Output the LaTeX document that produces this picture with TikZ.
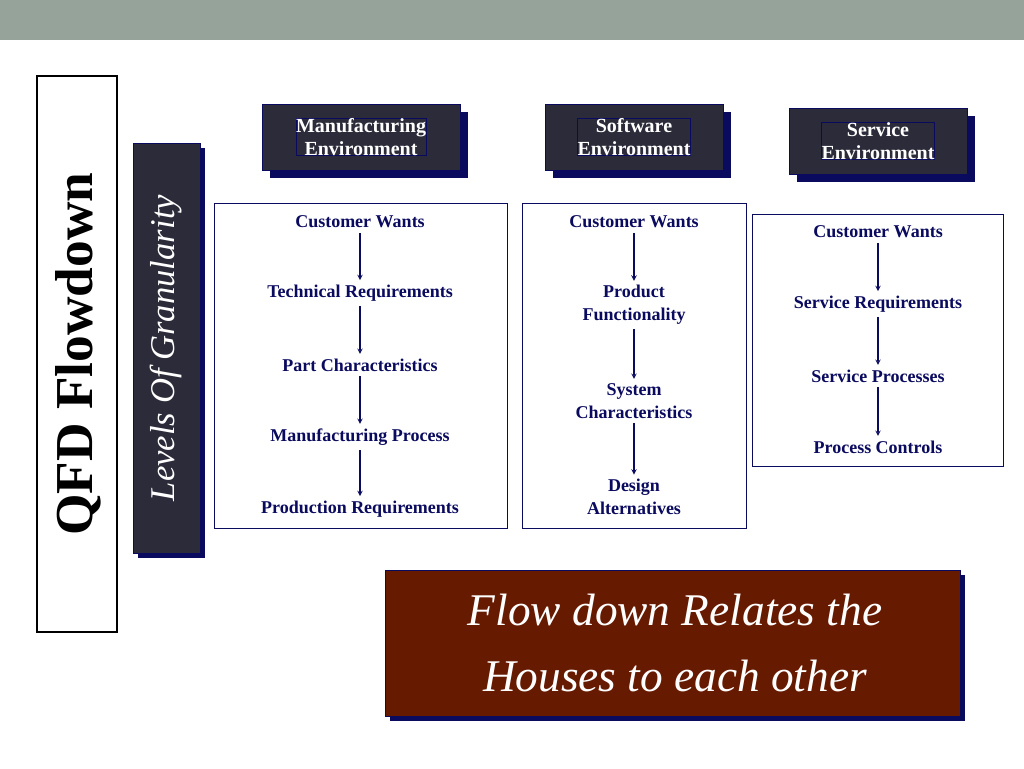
\documentclass[tikz,border=0pt]{standalone}
\usepackage{fontspec}
\setmainfont{Liberation Serif}
\usetikzlibrary{positioning}
\definecolor{topbar}{HTML}{95A39B}
\definecolor{darkbox}{HTML}{2B2B3A}
\definecolor{navy}{HTML}{0A0A5E}
\definecolor{maroon}{HTML}{661A00}
\tikzset{
  header/.style={fill=darkbox, draw=navy, text=white, font=\bfseries\fontsize{15}{17}\selectfont, align=center, inner sep=0pt},
  item/.style={text=navy, font=\bfseries\fontsize{13.5}{17}\selectfont, align=center},
  flow/.style={->, >=stealth, thick, draw=navy},
  column/.style={draw=navy, fill=white}
}
\begin{document}
\begin{tikzpicture}[x=0.75pt,y=-0.75pt]
\useasboundingbox (0,0) rectangle (1024,768);
\fill[white] (0,0) rectangle (1024,768);
\fill[topbar] (0,0) rectangle (1024,40);

% title
\draw[line width=2.2pt, fill=white] (37,76) rectangle (117,632);
\node[rotate=90, font=\bfseries\fontsize{40}{44}\selectfont] (title) at (78,354) {QFD Flowdown};

% granularity bar
\fill[navy] (138,148) rectangle (205,558);
\draw[fill=darkbox, draw=navy] (133,143) rectangle (200,553);
\node[rotate=90, text=white, font=\itshape\fontsize{26}{30}\selectfont] (levels) at (166,348) {Levels Of Granularity};

% headers
\fill[navy] (270,112) rectangle (468,178);
\draw[fill=darkbox, draw=navy] (262,104) rectangle (460,170);
\node[header] (manuf) at (361,137) {Manufacturing\\Environment};
\fill[navy] (553,112) rectangle (731,178);
\draw[fill=darkbox, draw=navy] (545,104) rectangle (723,170);
\node[header] (soft) at (634,137) {Software\\Environment};
\fill[navy] (797,116) rectangle (975,182);
\draw[fill=darkbox, draw=navy] (789,108) rectangle (967,174);
\node[header] (serv) at (878,141) {Service\\Environment};

% columns
\draw[column] (214,203) rectangle (507,528);
\draw[column] (522,203) rectangle (746,528);
\draw[column] (752,214) rectangle (1003,466);

\node[item] (m1) at (360,222) {Customer Wants};
\node[item] (m2) at (360,293) {Technical Requirements};
\node[item] (m3) at (360,365) {Part Characteristics};
\node[item] (m4) at (360,437) {Manufacturing Process};
\node[item] (m5) at (360,509) {Production Requirements};
\draw[flow] (m1) -- (m2);
\draw[flow] (m2) -- (m3);
\draw[flow] (m3) -- (m4);
\draw[flow] (m4) -- (m5);

\node[item] (s1) at (634,222) {Customer Wants};
\node[item] (s2) at (634,305) {Product\\Functionality};
\node[item] (s3) at (634,401) {System\\Characteristics};
\node[item] (s4) at (634,497) {Design\\Alternatives};
\draw[flow] (s1) -- (s2);
\draw[flow] (s2) -- (s3);
\draw[flow] (s3) -- (s4);

\node[item] (v1) at (878,232) {Customer Wants};
\node[item] (v2) at (878,304) {Service Requirements};
\node[item] (v3) at (878,376) {Service Processes};
\node[item] (v4) at (878,447) {Process Controls};
\draw[flow] (v1) -- (v2);
\draw[flow] (v2) -- (v3);
\draw[flow] (v3) -- (v4);

% note
\fill[navy] (390,575) rectangle (965,721);
\draw[fill=maroon, draw=navy] (385,570) rectangle (960,716);
\node[text=white, align=center, font=\itshape\fontsize{34}{50}\selectfont] (note) at (675,643) {Flow down Relates the\\Houses to each other};
\end{tikzpicture}
\end{document}
